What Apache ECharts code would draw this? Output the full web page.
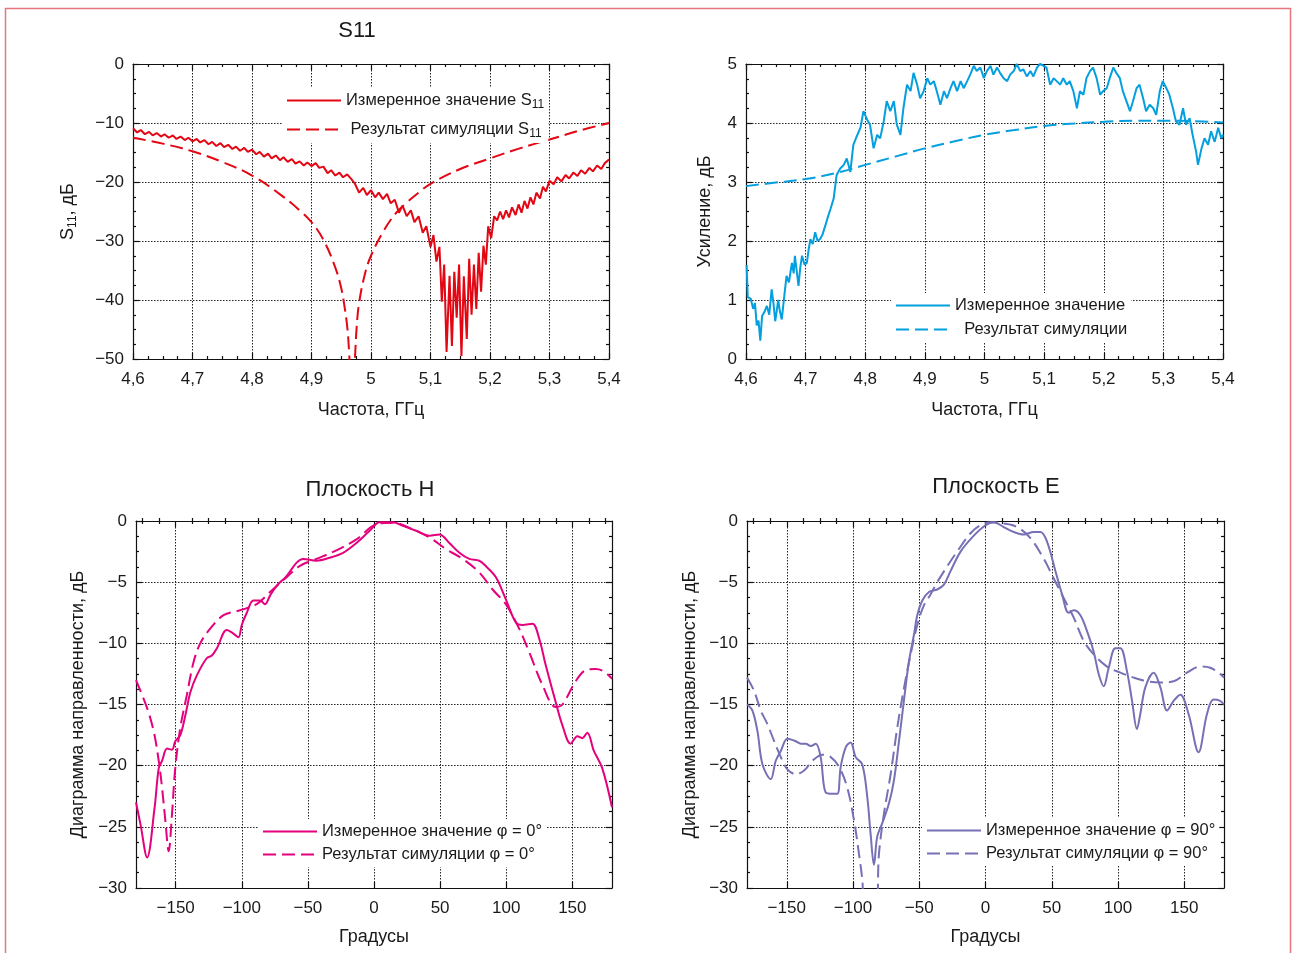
<!DOCTYPE html>
<html><head><meta charset="utf-8">
<script src="https://cdn.jsdelivr.net/npm/echarts@6/dist/echarts.min.js"></script>
<style>html,body{margin:0;padding:0;background:#fff}#c{width:1298px;height:953px}</style>
</head><body><div id="c"></div>
<script>
// ---------- DATA ----------
const freqTicks = [4.6, 4.7, 4.8, 4.9, 5.0, 5.1, 5.2, 5.3, 5.4];
const degMajorTicks = [-150, -100, -50, 0, 50, 100, 150];
const degMinorTicks = [-175, -162.5, -137.5, -125, -112.5, -87.5, -75, -62.5, -37.5, -25, -12.5,
  12.5, 25, 37.5, 62.5, 75, 87.5, 112.5, 125, 137.5, 162.5, 175];

const s11Measured = [
 [4.600,-10.9],[4.607,-11.6],[4.613,-11.2],[4.620,-11.9],[4.627,-11.5],[4.633,-12.1],[4.640,-11.7],[4.647,-12.3],
 [4.653,-11.9],[4.660,-12.5],[4.667,-12.1],[4.673,-12.7],[4.680,-12.3],[4.687,-12.9],[4.693,-12.5],[4.700,-13.1],
 [4.707,-12.7],[4.713,-13.3],[4.720,-12.9],[4.727,-13.6],[4.733,-13.2],[4.740,-13.9],[4.747,-13.4],[4.753,-14.1],
 [4.760,-13.7],[4.767,-14.4],[4.773,-14.0],[4.780,-14.7],[4.787,-14.2],[4.793,-14.9],[4.800,-14.5],[4.807,-15.3],
 [4.813,-14.9],[4.820,-15.7],[4.827,-15.2],[4.833,-16.0],[4.840,-15.5],[4.847,-16.3],[4.853,-15.8],[4.860,-16.6],
 [4.867,-16.1],[4.873,-16.9],[4.880,-16.5],[4.887,-17.2],[4.893,-16.7],[4.900,-17.3],[4.907,-16.8],[4.913,-17.6],
 [4.920,-17.4],[4.927,-18.5],[4.933,-18.0],[4.940,-18.9],[4.947,-18.4],[4.953,-19.2],[4.960,-18.7],[4.967,-19.5],
 [4.973,-20.3],[4.980,-21.8],[4.987,-21.0],[4.993,-22.2],[5.000,-21.4],[5.007,-22.6],[5.013,-21.8],[5.020,-22.9],
 [5.027,-22.0],[5.033,-23.6],[5.040,-23.0],[5.047,-25.2],[5.053,-24.0],[5.060,-25.8],[5.067,-24.8],[5.073,-26.8],
 [5.080,-25.8],[5.087,-28.6],[5.093,-27.5],[5.100,-31.0],[5.105,-29.0],[5.110,-33.5],[5.115,-31.0],
 [5.119,-40.3],[5.123,-34.0],[5.127,-48.8],[5.132,-35.9],[5.136,-47.8],[5.140,-35.2],[5.144,-43.0],[5.148,-34.0],
 [5.152,-49.5],[5.156,-36.0],[5.161,-46.6],[5.165,-33.0],[5.169,-42.5],[5.173,-34.0],[5.177,-41.5],[5.181,-32.0],
 [5.185,-38.6],[5.189,-30.8],[5.193,-34.0],[5.197,-27.5],[5.202,-29.5],[5.207,-25.8],[5.212,-26.5],[5.217,-25.0],
 [5.222,-26.3],[5.227,-24.8],[5.232,-26.0],[5.237,-24.3],[5.243,-25.6],[5.248,-23.8],[5.253,-25.2],[5.258,-23.2],
 [5.263,-24.5],[5.268,-22.6],[5.273,-23.8],[5.278,-21.8],[5.284,-22.8],[5.289,-20.8],[5.294,-21.6],[5.300,-19.8],
 [5.307,-20.4],[5.313,-19.2],[5.320,-19.9],[5.327,-18.8],[5.333,-19.4],[5.340,-18.4],[5.347,-19.0],[5.353,-18.0],
 [5.360,-18.6],[5.367,-17.6],[5.373,-18.2],[5.380,-17.2],[5.387,-17.8],[5.393,-16.8],[5.400,-16.2]
];
const s11Simulated = [
 [4.60,-12.5],[4.65,-13.5],[4.70,-14.8],[4.75,-16.6],[4.80,-18.9],[4.85,-22.3],[4.88,-24.8],[4.90,-26.8],
 [4.92,-29.8],[4.94,-34.5],[4.95,-38.0],[4.955,-40.8],[4.96,-44.5],[4.963,-48.5],[4.966,-54],[4.970,-56],
 [4.973,-50],[4.976,-44.5],[4.98,-40.5],[4.99,-35.5],[5.00,-32.5],[5.02,-28.5],[5.04,-25.5],[5.06,-23.5],
 [5.08,-21.8],[5.10,-20.3],[5.15,-17.8],[5.20,-16.0],[5.25,-14.3],[5.30,-12.8],[5.35,-11.3],[5.40,-10.0]
];
const gainMeasured = [
 [4.601,1.59],[4.603,1.05],[4.608,1.02],[4.612,0.85],[4.615,0.95],[4.618,0.57],[4.621,0.65],[4.624,0.31],
 [4.627,0.73],[4.631,0.80],[4.635,0.90],[4.639,0.75],[4.643,1.18],[4.646,0.95],[4.649,0.64],[4.652,0.85],
 [4.654,1.00],[4.657,0.80],[4.660,0.67],[4.664,1.05],[4.668,1.41],[4.672,1.30],[4.677,1.63],[4.680,1.45],
 [4.682,1.75],[4.685,1.50],[4.688,1.24],[4.691,1.55],[4.694,1.75],[4.698,1.60],[4.702,1.63],[4.705,1.85],
 [4.708,2.03],[4.712,1.95],[4.716,2.15],[4.720,2.00],[4.724,2.03],[4.728,2.10],[4.733,2.26],[4.738,2.43],
 [4.742,2.55],[4.747,2.72],[4.752,3.12],[4.758,3.23],[4.764,3.29],[4.769,3.40],[4.775,3.17],[4.780,3.63],
 [4.786,3.78],[4.792,3.92],[4.797,4.20],[4.803,4.06],[4.808,3.97],[4.814,3.57],[4.820,3.80],[4.825,3.74],
 [4.831,4.03],[4.836,4.37],[4.842,4.20],[4.848,4.37],[4.853,3.97],[4.859,3.80],[4.864,4.25],[4.870,4.65],
 [4.876,4.54],[4.881,4.85],[4.887,4.65],[4.892,4.42],[4.898,4.54],[4.904,4.76],[4.909,4.65],[4.915,4.71],
 [4.920,4.54],[4.926,4.31],[4.932,4.54],[4.937,4.42],[4.943,4.59],[4.948,4.71],[4.954,4.54],[4.960,4.71],
 [4.965,4.59],[4.971,4.71],[4.976,4.82],[4.982,4.97],[4.987,4.88],[4.993,4.94],[4.999,4.76],[5.004,4.88],
 [5.010,4.97],[5.015,4.82],[5.021,4.94],[5.026,4.85],[5.032,4.76],[5.038,4.71],[5.043,4.82],[5.049,4.88],
 [5.054,5.00],[5.060,4.88],[5.065,4.91],[5.071,4.79],[5.077,4.88],[5.082,4.79],[5.088,4.94],[5.093,5.00],
 [5.099,4.97],[5.104,4.94],[5.110,4.65],[5.116,4.76],[5.121,4.71],[5.127,4.65],[5.132,4.76],[5.138,4.65],
 [5.143,4.71],[5.149,4.54],[5.155,4.25],[5.160,4.54],[5.166,4.48],[5.171,4.76],[5.177,4.88],[5.182,4.94],
 [5.188,4.76],[5.194,4.48],[5.199,4.54],[5.205,4.59],[5.210,4.76],[5.216,4.94],[5.221,4.85],[5.227,4.76],
 [5.232,4.54],[5.238,4.37],[5.244,4.20],[5.249,4.37],[5.255,4.59],[5.260,4.65],[5.266,4.42],[5.271,4.20],
 [5.277,4.31],[5.283,4.25],[5.288,4.14],[5.294,4.54],[5.299,4.71],[5.305,4.59],[5.310,4.48],[5.316,4.25],
 [5.321,4.03],[5.327,3.97],[5.333,4.25],[5.338,3.97],[5.344,4.08],[5.349,3.80],[5.355,3.51],[5.358,3.29],
 [5.364,3.57],[5.369,3.74],[5.375,3.63],[5.380,3.86],[5.386,3.68],[5.392,3.92],[5.397,3.74],[5.400,3.80]
];
const gainSimulated = [
 [4.60,2.93],[4.65,2.99],[4.70,3.05],[4.75,3.15],[4.80,3.29],[4.85,3.43],[4.90,3.57],[4.95,3.69],
 [5.00,3.80],[5.05,3.88],[5.10,3.95],[5.15,3.99],[5.20,4.02],[5.25,4.04],[5.30,4.04],[5.35,4.03],[5.40,4.01]
];
const hMeasured = [
 [-180,-23.0],[-176.6,-24.8],[-171.6,-27.5],[-166,-23.5],[-162.8,-20.2],[-160.3,-19.6],[-156.5,-18.6],
 [-152.8,-18.7],[-150.3,-18.0],[-146.5,-17.5],[-142.7,-15.9],[-138.9,-14.0],[-133.9,-12.6],[-126.4,-11.2],
 [-122.6,-11.0],[-118.8,-10.4],[-111.3,-8.9],[-106.3,-9.2],[-102.5,-9.5],[-100,-8.5],[-96.2,-7.5],
 [-91.2,-6.5],[-86.2,-6.5],[-82.4,-6.8],[-78.6,-6.1],[-73.6,-5.3],[-66.1,-4.5],[-58.5,-3.4],[-53.5,-3.1],
 [-43.5,-3.25],[-33.4,-3.0],[-23.4,-2.6],[-13.3,-1.8],[-3.3,-0.8],[4.3,-0.1],[14.3,-0.1],[21.9,-0.4],
 [31.9,-0.8],[42,-1.2],[49.5,-1.1],[57,-1.8],[64.6,-2.6],[72.1,-3.1],[79.6,-3.25],[84.7,-3.7],[92.2,-4.6],
 [99.7,-6.4],[107.3,-8.3],[112.3,-8.5],[119.8,-8.4],[124.9,-9.6],[129.9,-11.8],[137.4,-14.8],[142.5,-16.7],
 [148.7,-18.2],[153.8,-17.6],[157.5,-17.75],[161.3,-17.3],[166.3,-18.8],[172.6,-20.2],[180,-23.4]
];
const hSimulated = [
 [-180,-13.0],[-171.6,-15.3],[-166.6,-17.2],[-162.8,-19.6],[-160.3,-21.8],[-157.8,-24.5],[-155.3,-27.0],
 [-152.8,-24.0],[-150.3,-20.2],[-146.5,-16.9],[-141.5,-14.2],[-136.4,-11.5],[-131.4,-10.0],[-123.9,-8.8],
 [-113.8,-7.7],[-101.3,-7.3],[-88.7,-6.8],[-78.6,-5.8],[-66.1,-4.6],[-56,-3.66],[-43.5,-3.1],[-28.4,-2.4],
 [-13.3,-1.5],[1.8,-0.27],[14.3,-0.14],[29.4,-0.68],[42,-1.35],[54.5,-2.3],[67.1,-3.1],[79.6,-4.2],
 [89.7,-5.6],[99.7,-6.8],[109.8,-8.8],[117.3,-10.7],[127.4,-13.4],[137.4,-15.2],[142.5,-15.0],[152.5,-13.1],
 [160,-12.2],[167.6,-12.1],[173.9,-12.3],[180,-12.9]
];
const eMeasured = [
 [-180,-15.0],[-175.9,-15.5],[-172.1,-17.2],[-168.3,-19.9],[-162.1,-21.1],[-158.3,-19.6],[-154.5,-18.8],
 [-149.5,-17.8],[-143.2,-18.0],[-139.4,-18.2],[-135.7,-18.2],[-131.9,-18.4],[-128.1,-18.2],[-124.4,-19.3],
 [-120.6,-22.2],[-115.6,-22.3],[-111.8,-22.3],[-109.3,-20.1],[-105.5,-18.5],[-101.8,-18.1],[-98,-19.3],
 [-93,-19.9],[-89.2,-22.6],[-86.7,-25.6],[-84.2,-28.1],[-81.7,-25.8],[-77.9,-24.7],[-72.9,-23.1],
 [-69.1,-21.2],[-65.3,-18.0],[-61.6,-14.7],[-57.8,-11.5],[-54,-9.3],[-51.5,-7.7],[-47.7,-6.5],[-42.7,-5.8],
 [-36.4,-5.6],[-31.4,-5.2],[-26.4,-4.1],[-18.8,-2.5],[-8.8,-1.2],[0,-0.35],[6.3,-0.1],[13.8,-0.5],
 [21.4,-0.9],[28.9,-1.1],[36.4,-0.9],[41.5,-0.9],[46.5,-1.7],[52.8,-4.1],[57.8,-6.0],[62.8,-7.5],
 [66.6,-7.3],[71.6,-7.7],[76.6,-9.0],[81.7,-10.7],[85.4,-12.5],[89.2,-13.5],[93,-12.0],[98,-10.4],
 [101.8,-10.4],[106.8,-12.3],[110.6,-14.7],[114.3,-17.0],[116.8,-15.8],[120.6,-13.6],[126.9,-12.4],
 [132,-13.6],[137,-15.5],[142,-14.7],[147,-14.2],[153.3,-15.8],[160.8,-18.9],[167.1,-15.8],[172.1,-14.6],
 [177.1,-14.7],[180,-15.0]
];
const eSimulated = [
 [-180,-12.8],[-174.6,-13.9],[-169.6,-15.5],[-164.6,-16.6],[-159.5,-18.0],[-154.5,-19.3],[-149.5,-20.3],
 [-143.2,-20.7],[-136.9,-20.4],[-130.6,-19.6],[-123.1,-19.1],[-116.8,-19.3],[-110.5,-20.1],[-104.3,-21.8],
 [-99.2,-24.5],[-95.5,-27.2],[-93,-29.3],[-91,-32],[-83,-32],[-80.4,-27.2],[-76.6,-23.9],[-71.6,-20.7],
 [-66.6,-16.9],[-61.6,-13.7],[-56.5,-10.9],[-51.5,-8.5],[-46.5,-6.9],[-41.5,-6.0],[-36.4,-5.0],[-28.9,-3.7],
 [-21.4,-2.5],[-11.3,-1.0],[-3.8,-0.35],[3.8,-0.1],[13.8,-0.2],[23.9,-0.5],[33.9,-1.4],[44,-3.1],
 [51.5,-4.7],[59,-6.3],[66.6,-7.9],[74.1,-9.8],[81.7,-10.9],[91.7,-11.9],[101.8,-12.4],[111.8,-12.8],
 [121.9,-13.1],[132,-13.2],[142,-13.1],[152,-12.4],[162,-11.9],[169.6,-12.0],[177.1,-12.5],[180,-12.8]
];

// ---------- CHART ----------
const FONT = '"Liberation Sans", Arial, Helvetica, sans-serif';
const TXT = '#1a1a1a';
function fmt(v) {
  const s = String(Math.round(v * 1000) / 1000).replace('.', ',');
  return s.replace('-', '\u2212');
}
const lineC = { color: '#111', width: 1.2 };
const gridLine = { show: true, lineStyle: { type: [1.5, 1.5], color: '#222', width: 1 } };
const labelStyle = { fontFamily: FONT, fontSize: 17, color: TXT };
const nameStyle = { fontFamily: FONT, fontSize: 18, color: TXT };

const grids = [
  { left: 133, top: 64, width: 476, height: 295 },
  { left: 746, top: 64, width: 477, height: 295 },
  { left: 136, top: 521, width: 476, height: 367 },
  { left: 747, top: 521, width: 477, height: 367 }
];

const xAxes = [], yAxes = [];
function freqX(g, name) {
  const base = { gridIndex: g, type: 'value', min: 4.6, max: 5.4, interval: 0.1,
    axisLine: { show: true, onZero: false, lineStyle: lineC },
    axisTick: { show: true, inside: true, length: 6, lineStyle: lineC },
    minorTick: { show: true, splitNumber: 4, length: 3, lineStyle: lineC } };
  xAxes.push(Object.assign({}, base, { position: 'bottom',
    axisLabel: Object.assign({ formatter: fmt, margin: 12 }, labelStyle),
    splitLine: gridLine, name: name, nameLocation: 'middle', nameGap: 42,
    nameTextStyle: nameStyle }));
  xAxes.push(Object.assign({}, base, { position: 'top', axisLabel: { show: false }, splitLine: { show: false } }));
}
function degX(g, name) {
  const base = { gridIndex: g, type: 'value', min: -180, max: 180 };
  xAxes.push(Object.assign({}, base, { position: 'bottom',
    axisLine: { show: true, onZero: false, lineStyle: lineC },
    axisTick: { show: true, inside: true, length: 6, lineStyle: lineC, customValues: degMajorTicks },
    axisLabel: Object.assign({ formatter: fmt, margin: 12, customValues: degMajorTicks }, labelStyle),
    splitLine: gridLine, name: name, nameLocation: 'middle', nameGap: 40, nameTextStyle: nameStyle }));
  xAxes.push(Object.assign({}, base, { position: 'bottom', axisLine: { show: false },
    axisTick: { show: true, inside: true, length: 3, lineStyle: lineC, customValues: degMinorTicks },
    axisLabel: { show: false }, splitLine: { show: false } }));
  xAxes.push(Object.assign({}, base, { position: 'top',
    axisLine: { show: true, onZero: false, lineStyle: lineC },
    axisTick: { show: true, inside: true, length: 6, lineStyle: lineC, customValues: degMajorTicks },
    axisLabel: { show: false }, splitLine: { show: false } }));
  xAxes.push(Object.assign({}, base, { position: 'top', axisLine: { show: false },
    axisTick: { show: true, inside: true, length: 3, lineStyle: lineC, customValues: degMinorTicks },
    axisLabel: { show: false }, splitLine: { show: false } }));
}
function valY(g, min, max, interval, name, gap, rich) {
  const base = { gridIndex: g, type: 'value', min: min, max: max, interval: interval,
    axisLine: { show: true, onZero: false, lineStyle: lineC },
    axisTick: { show: true, inside: true, length: 6, lineStyle: lineC },
    minorTick: { show: true, splitNumber: 4, length: 3, lineStyle: lineC } };
  yAxes.push(Object.assign({}, base, { position: 'left',
    axisLabel: Object.assign({ formatter: fmt, margin: 9, padding: [10, 0, 0, 0] }, labelStyle),
    splitLine: gridLine, name: name, nameLocation: 'middle', nameGap: gap,
    nameTextStyle: Object.assign({}, nameStyle, rich ? { rich: rich } : {}) }));
  yAxes.push(Object.assign({}, base, { position: 'right', axisLabel: { show: false }, splitLine: { show: false } }));
}

const subRich = {
  n: { fontFamily: FONT, fontSize: 18, color: TXT },
  s: { fontFamily: FONT, fontSize: 12, color: TXT, padding: [9, 0, 0, 0] }
};

freqX(0, 'Частота, ГГц');
freqX(1, 'Частота, ГГц');
degX(2, 'Градусы');
degX(3, 'Градусы');
valY(0, -50, 0, 10, '{n|S}{s|11}{n|, дБ}', 54, subRich);
valY(1, 0, 5, 1, 'Усиление, дБ', 32);
valY(2, -30, 0, 5, 'Диаграмма направленности, дБ', 49);
valY(3, -30, 0, 5, 'Диаграмма направленности, дБ', 48);

const RED = '#e30613', BLUE = '#049fdf', PINK = '#e5007d', PURPLE = '#7670b5';
function ser(name, data, xi, yi, color, dashed, smooth) {
  return { name: name, type: 'line', data: data, xAxisIndex: xi, yAxisIndex: yi,
    showSymbol: false, symbol: 'none', smooth: smooth || false, clip: true, animation: false,
    lineStyle: { color: color, width: 2, type: dashed ? [13, 6] : 'solid' },
    itemStyle: { color: color } };
}
const N = {
  s11m: 'Измеренное значение S11', s11s: 'Результат симуляции S11',
  gm: 'Измеренное значение', gs: 'Результат симуляции',
  hm: 'Измеренное значение φ = 0°', hs: 'Результат симуляции φ = 0°',
  em: 'Измеренное значение φ = 90°', es: 'Результат симуляции φ = 90°'
};
const series = [
  ser(N.s11m, s11Measured, 0, 0, RED, false),
  ser(N.s11s, s11Simulated, 0, 0, RED, true, 0.4),
  ser(N.gm, gainMeasured, 2, 2, BLUE, false),
  ser(N.gs, gainSimulated, 2, 2, BLUE, true, 0.4),
  ser(N.hm, hMeasured, 4, 4, PINK, false, 0.35),
  ser(N.hs, hSimulated, 4, 4, PINK, true, 0.35),
  ser(N.em, eMeasured, 8, 6, PURPLE, false, 0.35),
  ser(N.es, eSimulated, 8, 6, PURPLE, true, 0.35)
];

const legRich = {
  t: { fontFamily: FONT, fontSize: 16.5, color: TXT },
  s: { fontFamily: FONT, fontSize: 12, color: TXT, padding: [9, 0, 0, 0] }
};
function legend(names, left, top, gap, fmtFn) {
  return { data: names, orient: 'vertical', left: left, top: top, itemWidth: 54, itemHeight: 14,
    itemGap: gap, padding: [3, 4, 3, 4], backgroundColor: '#fff', selectedMode: false,
    itemStyle: { opacity: 0, color: 'rgba(0,0,0,0)', borderWidth: 0 },
    textStyle: { fontFamily: FONT, fontSize: 16.5, color: TXT, lineHeight: 19, rich: legRich },
    formatter: fmtFn };
}
const legends = [
  legend([N.s11m, N.s11s], 282, 88, 9, function (n) {
    const pre = n === N.s11s ? ' ' : '';
    return '{t|' + pre + n.slice(0, -2) + '}{s|11}';
  }),
  legend([N.gm, N.gs], 891, 293, 5, function (n) { return n === N.gs ? '  ' + n : n; }),
  legend([N.hm, N.hs], 258, 819, 4, function (n) { return n; }),
  legend([N.em, N.es], 922, 818, 4, function (n) { return n; })
];

const titleStyle = { fontFamily: FONT, fontSize: 22, fill: TXT, textAlign: 'center', textVerticalAlign: 'middle' };
const graphic = [
  { type: 'rect', silent: true, shape: { x: 5.5, y: 8.5, width: 1285, height: 1000 },
    style: { fill: 'none', stroke: '#e8747c', lineWidth: 1.5 }, z: 100 },
  { type: 'text', silent: true, style: Object.assign({ text: 'S11', x: 357, y: 31 }, titleStyle) },
  { type: 'text', silent: true, style: Object.assign({ text: 'Плоскость H', x: 370, y: 490 }, titleStyle) },
  { type: 'text', silent: true, style: Object.assign({ text: 'Плоскость E', x: 996, y: 487 }, titleStyle) }
];

const chart = echarts.init(document.getElementById('c'), null, { renderer: 'canvas' });
chart.setOption({
  animation: false,
  backgroundColor: '#fff',
  grid: grids,
  xAxis: xAxes,
  yAxis: yAxes,
  legend: legends,
  series: series,
  graphic: graphic
});
</script></body></html>
